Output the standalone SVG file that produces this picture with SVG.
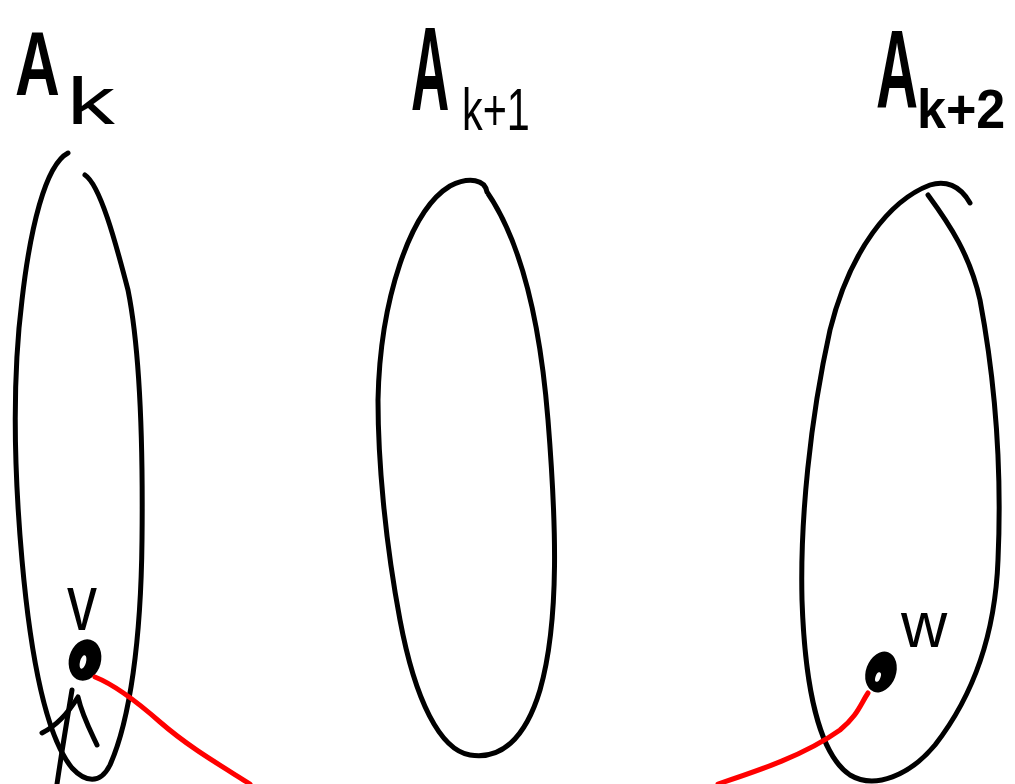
<svg xmlns="http://www.w3.org/2000/svg" width="1015" height="784" viewBox="0 0 1015 784">
<style>
.set{fill:none;stroke:#000;stroke-width:5;stroke-linecap:round;stroke-linejoin:round}
.lbl{font-family:"Liberation Sans",Arial,sans-serif;font-weight:bold;fill:#000}
.thin{font-weight:normal}
.edge{fill:none;stroke:#f00;stroke-width:5;stroke-linecap:round}
.ink{fill:none;stroke:#000;stroke-width:5;stroke-linecap:round;stroke-linejoin:round}
</style>
<rect width="1015" height="784" fill="#fff"/>
<g id="set-Ak">
<path class="set" d="M85,175 C100,185 115,240 128,290 C140,350 143,450 142,540 C141,640 130,720 110,765 C100,785 85,782 72,768 C45,735 30,650 22,560 C14,470 12,380 22,300 C30,230 45,165 68,153"/>
<text class="lbl" font-size="90" transform="translate(15,95) scale(0.69,1)">A</text>
<text class="lbl thin" font-size="66" transform="translate(67,124) scale(1.45,1)">k</text>
</g>
<g id="set-Ak1">
<path class="set" d="M487,192 C520,240 540,320 548,420 C556,520 560,620 540,690 C525,740 500,760 470,755 C440,750 415,700 400,620 C385,540 378,460 378,400 C380,300 410,210 450,186 C470,176 485,180 487,192"/>
<text class="lbl" font-size="118" transform="translate(411,110) scale(0.45,1)">A</text>
<text class="lbl thin" font-size="60" transform="translate(462,130) scale(0.69,1)">k+1</text>
</g>
<g id="set-Ak2">
<path class="set" d="M970,203 C960,185 945,180 930,185 C890,200 850,250 830,330 C810,420 800,520 802,600 C805,690 820,755 850,775 C875,790 910,775 935,745 C970,700 995,640 998,560 C1002,470 995,380 980,300 C970,255 950,225 928,195"/>
<text class="lbl" font-size="112" transform="translate(876,108) scale(0.52,1)">A</text>
<text class="lbl" font-size="56" transform="translate(917,128) scale(0.93,1)">k+2</text>
</g>
<g id="node-v">
<ellipse cx="85" cy="660" rx="16" ry="21" transform="rotate(15 85 660)" fill="#000"/>
<ellipse cx="83" cy="662" rx="3" ry="7" transform="rotate(15 83 662)" fill="#fff"/>
<text class="lbl thin" font-size="80" transform="translate(67,630) scale(0.75,1)">v</text>
</g>
<g id="node-w">
<ellipse cx="881" cy="672" rx="15" ry="21" transform="rotate(20 881 672)" fill="#000"/>
<ellipse cx="878" cy="677" rx="2.5" ry="5" transform="rotate(20 878 677)" fill="#fff"/>
<text class="lbl thin" x="901" y="647" font-size="64">w</text>
</g>
<g id="connectors">
<path class="edge" d="M95,677 C115,685 135,700 160,722 C190,748 220,765 250,784"/>
<path class="edge" d="M868,693 C860,705 858,715 840,730 C805,755 760,770 718,784"/>
<path class="ink" d="M57,784 C62,750 67,720 72,690"/>
<path class="ink" d="M42,733 C58,725 70,710 78,697 C82,715 90,730 97,745"/>
</g>
</svg>
